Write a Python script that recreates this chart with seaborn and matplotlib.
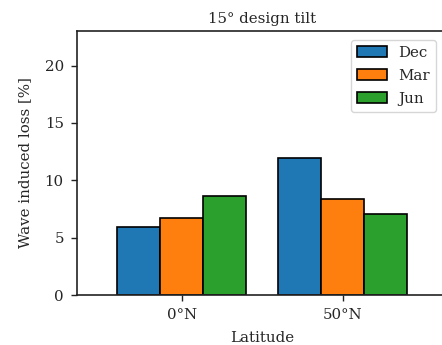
import matplotlib
matplotlib.use("Agg")
import matplotlib.pyplot as plt
import seaborn as sns
import pandas as pd

latitudes = ["0°N", "50°N"]
months = ["Dec", "Mar", "Jun"]
loss_dec = [5.9, 11.95]
loss_mar = [6.7, 8.35]
loss_jun = [8.65, 7.05]
colors = ["#1f77b4", "#ff7f0e", "#2ca02c"]

rows = []
for m, vals in zip(months, [loss_dec, loss_mar, loss_jun]):
    for lat, v in zip(latitudes, vals):
        rows.append({"Latitude": lat, "Month": m, "Loss": v})
df = pd.DataFrame(rows)

sns.set_style("ticks")
plt.rcParams["font.family"] = ["DejaVu Serif"]
fs = 10.8

fig = plt.figure(figsize=(4.42, 3.45), dpi=100)
ax = fig.add_axes([0.1742, 0.1449, 0.838, 0.765])
sns.barplot(data=df, x="Latitude", y="Loss", hue="Month", order=latitudes,
            hue_order=months, palette=colors, edgecolor="black", linewidth=1.2,
            errorbar=None, ax=ax, width=0.8, saturation=1)
ax.set_xlim(-0.65, 1.65)
ax.set_ylim(0, 23)
ax.set_yticks([0, 5, 10, 15, 20])
ax.set_title("15° design tilt", fontsize=fs, pad=6)
ax.set_xlabel("Latitude", fontsize=fs, labelpad=6)
ax.set_ylabel("Wave induced loss [%]", fontsize=fs, labelpad=9)
ax.tick_params(labelsize=fs, color="#222222", width=1.0, length=4.5, pad=5)
for s in ax.spines.values():
    s.set_visible(True)
    s.set_color("#222222")
    s.set_linewidth(1.2)
leg = ax.legend(loc="upper right", fontsize=fs, frameon=True,
                bbox_to_anchor=(0.99, 0.995), labelspacing=0.6)
leg.get_frame().set_edgecolor("#cccccc")
fig.savefig("out.png", dpi=100)
